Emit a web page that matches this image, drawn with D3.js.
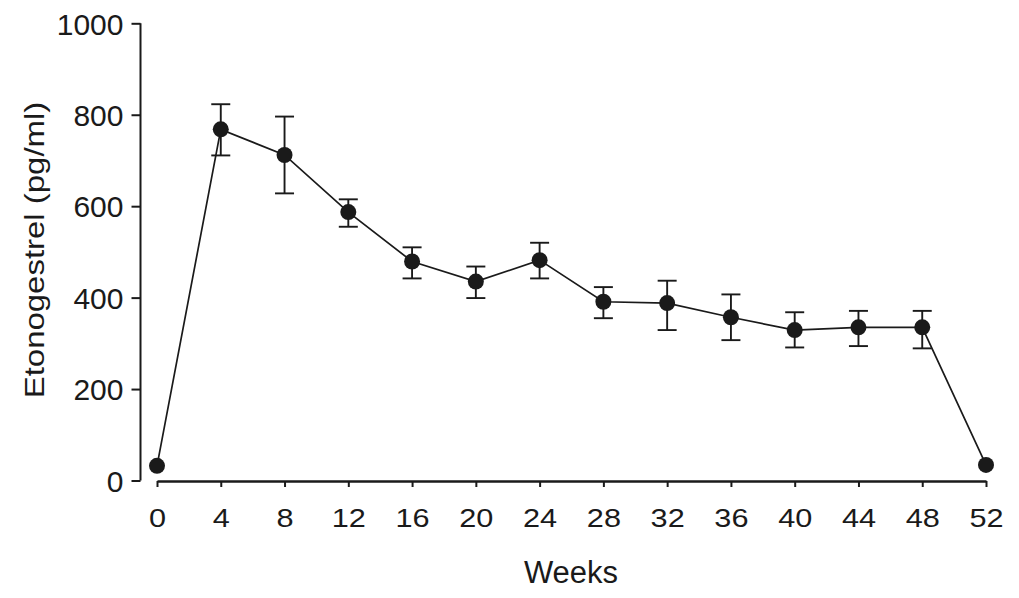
<!DOCTYPE html>
<meta charset="utf-8">

<style>
body { margin: 0; background: #fff; }
svg.chart { background: #fff; }
svg.chart text { font-family: "Liberation Sans", Arial, sans-serif; fill: #1a1a1a; }
svg.chart .axis path, svg.chart .axis line { stroke: #1a1a1a; }
svg.chart .y.axis text { font-size: 30px; }
svg.chart .x.axis text { font-size: 26px; }
svg.chart .label { font-size: 30px; text-anchor: middle; }
svg.chart .line { fill: none; stroke: #1a1a1a; stroke-width: 1.7; }
svg.chart .err { stroke: #1a1a1a; stroke-width: 1.9; }
svg.chart .dot { fill: #1a1a1a; }
</style>

<svg class="chart" width="1019" height="598"></svg>

<script src="https://d3js.org/d3.v7.min.js"></script>

<script>

var weeks = [0, 4, 8, 12, 16, 20, 24, 28, 32, 36, 40, 44, 48, 52];
var means = [32, 768, 712, 587, 479, 435, 482, 391, 388, 357, 329, 335, 335, 34];
var upper = [null, 823, 796, 615, 510, 468, 520, 423, 437, 407, 368, 371, 371, null];
var lower = [null, 711, 628, 555, 442, 399, 442, 355, 329, 307, 291, 294, 289, null];
var yTicks = [0, 200, 400, 600, 800, 1000];

var svg = d3.select("svg.chart");

var xScale = d3.scaleLinear().domain([0, 52]).range([157, 986]);
var yScale = d3.scaleLinear().domain([0, 1000]).range([480.5, 23.3]);

var data = weeks.map(function(w, i) {
  return {week: w, mean: means[i], hi: upper[i], lo: lower[i]};
});

// Axes
var yAxis = d3.axisLeft(yScale)
  .tickValues(yTicks)
  .tickFormat(d3.format("d"))
  .tickSize(9)
  .tickPadding(8);

svg.append("g")
  .attr("class", "y axis")
  .attr("transform", "translate(140.5,0)")
  .call(yAxis)
  .call(function(g) {
    g.select(".domain").attr("stroke-width", 2).attr("d", "M0,23.3V480.5");
    g.selectAll(".tick line").attr("stroke-width", 2);
    g.selectAll(".tick text").attr("dy", "0.36em");
  });

var xAxis = d3.axisBottom(xScale)
  .tickValues(weeks)
  .tickSize(6)
  .tickSizeOuter(0)
  .tickPadding(10);

svg.append("g")
  .attr("class", "x axis")
  .attr("transform", "translate(0,481)")
  .call(xAxis)
  .call(function(g) {
    g.select(".domain").attr("stroke-width", 2.6);
    g.selectAll(".tick line").attr("stroke-width", 2);
    g.selectAll(".tick text")
      .attr("y", 0)
      .attr("dy", 0)
      .attr("transform", "translate(0,46) scale(1.18,1)");
  });

// Axis titles
svg.append("text")
  .attr("class", "label")
  .attr("transform", "translate(44,250) rotate(-90) scale(1.22,1)")
  .style("font-size", "27px")
  .text("Etonogestrel (pg/ml)");

svg.append("text")
  .attr("class", "label")
  .attr("x", 571)
  .attr("y", 583)
  .style("font-size", "31px")
  .text("Weeks");

// Line
var line = d3.line()
  .x(function(d) { return xScale(d.week); })
  .y(function(d) { return yScale(d.mean); });

svg.append("path")
  .datum(data)
  .attr("class", "line")
  .attr("d", line);

// Error bars
var errData = data.filter(function(d) { return d.hi !== null; });
var cap = 9.5;

var err = svg.selectAll(".errbar")
  .data(errData)
  .enter().append("g")
  .attr("class", "errbar");

err.append("line")
  .attr("class", "err")
  .attr("x1", function(d) { return xScale(d.week); })
  .attr("x2", function(d) { return xScale(d.week); })
  .attr("y1", function(d) { return yScale(d.hi); })
  .attr("y2", function(d) { return yScale(d.lo); });

err.append("line")
  .attr("class", "err")
  .attr("x1", function(d) { return xScale(d.week) - cap; })
  .attr("x2", function(d) { return xScale(d.week) + cap; })
  .attr("y1", function(d) { return yScale(d.hi); })
  .attr("y2", function(d) { return yScale(d.hi); });

err.append("line")
  .attr("class", "err")
  .attr("x1", function(d) { return xScale(d.week) - cap; })
  .attr("x2", function(d) { return xScale(d.week) + cap; })
  .attr("y1", function(d) { return yScale(d.lo); })
  .attr("y2", function(d) { return yScale(d.lo); });

// Points
svg.selectAll(".dot")
  .data(data)
  .enter().append("circle")
  .attr("class", "dot")
  .attr("cx", function(d) { return xScale(d.week); })
  .attr("cy", function(d) { return yScale(d.mean); })
  .attr("r", 8);

</script>
